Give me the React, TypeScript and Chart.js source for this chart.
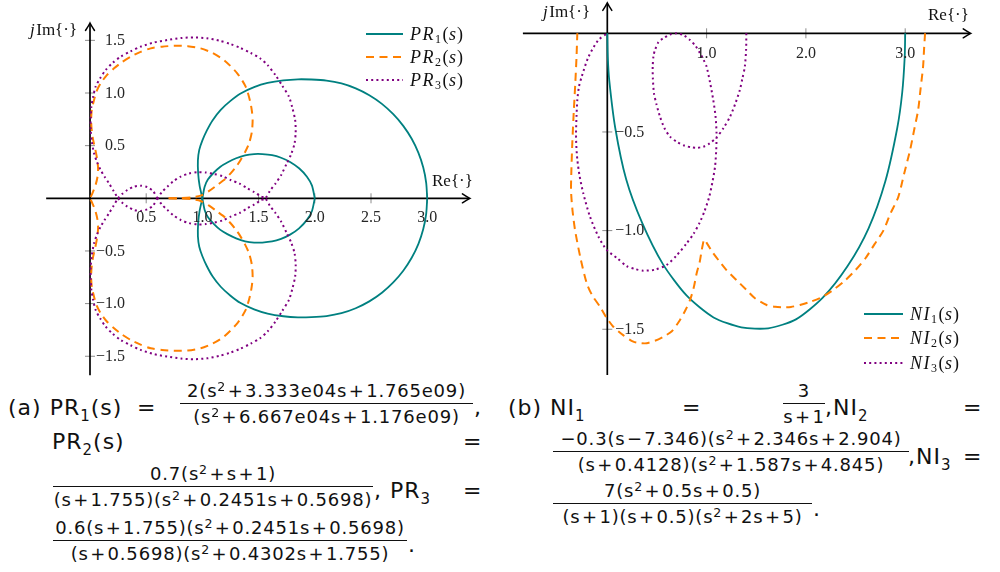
import React, { useEffect, useRef } from "react";
import { Chart, registerables } from "chart.js";

Chart.register(...registerables);

// ---------- (a) PR family: Nyquist loops (Re, Im) ----------
// PR1: outer loop through 3, inner loop through 2, both meeting at 1
const pr1OuterUpRe = [1.0, 0.975, 0.962, 0.96, 0.972, 1.0, 1.04, 1.09, 1.163, 1.25, 1.34, 1.46, 1.58, 1.72, 1.85, 1.97, 2.104, 2.237, 2.364, 2.485, 2.597, 2.698, 2.787, 2.862, 2.922, 2.965, 2.991, 3.0];
const pr1OuterUpIm = [0, 0.12, 0.24, 0.36, 0.46, 0.55, 0.645, 0.74, 0.84, 0.925, 0.995, 1.055, 1.095, 1.12, 1.13, 1.128, 1.118, 1.091, 1.044, 0.979, 0.897, 0.799, 0.688, 0.565, 0.432, 0.292, 0.147, 0];
const pr1OuterLoRe = [1.0, 0.975, 0.962, 0.96, 0.972, 1.0, 1.04, 1.09, 1.163, 1.25, 1.34, 1.46, 1.58, 1.72, 1.85, 1.97, 2.104, 2.237, 2.364, 2.485, 2.597, 2.698, 2.787, 2.862, 2.922, 2.965, 2.991, 3.0];
const pr1OuterLoIm = [0, -0.12, -0.24, -0.36, -0.46, -0.55, -0.645, -0.74, -0.84, -0.925, -0.995, -1.055, -1.095, -1.12, -1.13, -1.128, -1.118, -1.091, -1.044, -0.979, -0.897, -0.799, -0.688, -0.565, -0.432, -0.292, -0.147, 0];
const pr1InnerUpRe = [1.0, 1.02, 1.05, 1.103, 1.16, 1.222, 1.3, 1.38, 1.46, 1.533, 1.62, 1.7, 1.78, 1.86, 1.93, 1.975, 2.0];
const pr1InnerUpIm = [0, 0.11, 0.18, 0.245, 0.3, 0.34, 0.38, 0.408, 0.42, 0.42, 0.41, 0.385, 0.345, 0.285, 0.205, 0.12, 0];
const pr1InnerLoRe = [1.0, 1.02, 1.05, 1.103, 1.16, 1.222, 1.3, 1.38, 1.46, 1.533, 1.62, 1.7, 1.78, 1.86, 1.93, 1.975, 2.0];
const pr1InnerLoIm = [0, -0.11, -0.18, -0.245, -0.3, -0.34, -0.38, -0.408, -0.42, -0.42, -0.41, -0.385, -0.345, -0.285, -0.205, -0.12, 0];

// PR2: from 0.7 on the real axis round to the origin
const pr2UpRe = [0.7, 0.8, 0.9, 0.985, 1.06, 1.133, 1.2, 1.251, 1.3, 1.34, 1.38, 1.415, 1.44, 1.447, 1.44, 1.425, 1.385, 1.31, 1.192, 1.09, 0.985, 0.87, 0.747, 0.64, 0.54, 0.45, 0.362, 0.28, 0.214, 0.15, 0.095, 0.06, 0.036, 0.016, 0.01, 0.015, 0.028, 0.048, 0.065, 0.072, 0.066, 0.048, 0.022, 0];
const pr2UpIm = [0, 0.002, 0.008, 0.025, 0.07, 0.127, 0.18, 0.237, 0.3, 0.364, 0.44, 0.522, 0.63, 0.744, 0.83, 0.92, 1.06, 1.187, 1.313, 1.38, 1.424, 1.445, 1.448, 1.44, 1.424, 1.39, 1.345, 1.29, 1.234, 1.17, 1.092, 1.02, 0.934, 0.84, 0.744, 0.65, 0.554, 0.46, 0.364, 0.28, 0.2, 0.12, 0.05, 0];
const pr2LoRe = [0.7, 0.8, 0.9, 0.985, 1.06, 1.133, 1.2, 1.251, 1.3, 1.34, 1.38, 1.415, 1.44, 1.447, 1.44, 1.425, 1.385, 1.31, 1.192, 1.09, 0.985, 0.87, 0.747, 0.64, 0.54, 0.45, 0.362, 0.28, 0.214, 0.15, 0.095, 0.06, 0.036, 0.016, 0.01, 0.015, 0.028, 0.048, 0.065, 0.072, 0.066, 0.048, 0.022, 0];
const pr2LoIm = [0, -0.002, -0.008, -0.025, -0.07, -0.127, -0.18, -0.237, -0.3, -0.364, -0.44, -0.522, -0.63, -0.744, -0.83, -0.92, -1.06, -1.187, -1.313, -1.38, -1.424, -1.445, -1.448, -1.44, -1.424, -1.39, -1.345, -1.29, -1.234, -1.17, -1.092, -1.02, -0.934, -0.84, -0.744, -0.65, -0.554, -0.46, -0.364, -0.28, -0.2, -0.12, -0.05, 0];

// PR3: closed path starting and ending at 0.6 (and its mirror)
const pr3PosRe = [0.6, 0.56, 0.51, 0.45, 0.39, 0.332, 0.285, 0.25, 0.21, 0.169, 0.13, 0.095, 0.062, 0.036, 0.016, 0.006, 0.006, 0.012, 0.028, 0.05, 0.09, 0.139, 0.2, 0.273, 0.36, 0.45, 0.57, 0.688, 0.81, 0.925, 1.04, 1.15, 1.25, 1.334, 1.43, 1.512, 1.58, 1.65, 1.71, 1.77, 1.8, 1.825, 1.83, 1.82, 1.79, 1.75, 1.7, 1.65, 1.6, 1.56, 1.518, 1.46, 1.4, 1.33, 1.251, 1.18, 1.103, 1.03, 0.955, 0.88, 0.807, 0.74, 0.688, 0.64, 0.6];
const pr3PosIm = [0, -0.07, -0.105, -0.12, -0.11, -0.079, -0.04, 0, 0.07, 0.142, 0.205, 0.269, 0.345, 0.427, 0.54, 0.649, 0.76, 0.87, 0.965, 1.06, 1.14, 1.218, 1.285, 1.345, 1.395, 1.44, 1.48, 1.503, 1.522, 1.528, 1.52, 1.497, 1.465, 1.43, 1.38, 1.33, 1.265, 1.17, 1.07, 0.965, 0.86, 0.744, 0.63, 0.522, 0.42, 0.33, 0.22, 0.14, 0.07, 0, -0.02, -0.06, -0.095, -0.14, -0.174, -0.21, -0.231, -0.245, -0.248, -0.235, -0.206, -0.16, -0.11, -0.06, 0];
const pr3NegRe = [0.6, 0.56, 0.51, 0.45, 0.39, 0.332, 0.285, 0.25, 0.21, 0.169, 0.13, 0.095, 0.062, 0.036, 0.016, 0.006, 0.006, 0.012, 0.028, 0.05, 0.09, 0.139, 0.2, 0.273, 0.36, 0.45, 0.57, 0.688, 0.81, 0.925, 1.04, 1.15, 1.25, 1.334, 1.43, 1.512, 1.58, 1.65, 1.71, 1.77, 1.8, 1.825, 1.83, 1.82, 1.79, 1.75, 1.7, 1.65, 1.6, 1.56, 1.518, 1.46, 1.4, 1.33, 1.251, 1.18, 1.103, 1.03, 0.955, 0.88, 0.807, 0.74, 0.688, 0.64, 0.6];
const pr3NegIm = [0, 0.07, 0.105, 0.12, 0.11, 0.079, 0.04, 0, -0.07, -0.142, -0.205, -0.269, -0.345, -0.427, -0.54, -0.649, -0.76, -0.87, -0.965, -1.06, -1.14, -1.218, -1.285, -1.345, -1.395, -1.44, -1.48, -1.503, -1.522, -1.528, -1.52, -1.497, -1.465, -1.43, -1.38, -1.33, -1.265, -1.17, -1.07, -0.965, -0.86, -0.744, -0.63, -0.522, -0.42, -0.33, -0.22, -0.14, -0.07, 0, 0.02, 0.06, 0.095, 0.14, 0.174, 0.21, 0.231, 0.245, 0.248, 0.235, 0.206, 0.16, 0.11, 0.06, 0];

// ---------- (b) NI family ----------
const ni1Re = [0, 0.005, 0.02, 0.08, 0.19, 0.35, 0.56, 0.8, 1.07, 1.35, 1.62, 1.9, 2.17, 2.42, 2.63, 2.8, 2.92, 2.97, 2.995, 3.0];
const ni1Im = [0, -0.12, -0.24, -0.48, -0.74, -0.96, -1.17, -1.33, -1.44, -1.49, -1.495, -1.45, -1.34, -1.18, -0.99, -0.75, -0.48, -0.3, -0.12, 0];

const ni2Re = [3.2, 3.19, 3.18, 3.155, 3.13, 3.09, 3.05, 2.99, 2.93, 2.85, 2.78, 2.69, 2.6, 2.5, 2.4, 2.29, 2.17, 2.05, 1.94, 1.85, 1.773, 1.69, 1.605, 1.487, 1.4, 1.3, 1.2, 1.12, 1.06, 1.01, 0.975, 0.962, 0.951, 0.93, 0.9, 0.87, 0.833, 0.79, 0.732, 0.65, 0.564, 0.48, 0.397, 0.33, 0.262, 0.16, 0.06, -0.01, -0.073, -0.15, -0.207, -0.27, -0.325, -0.35, -0.365, -0.362, -0.352, -0.338, -0.322, -0.31, -0.302];
const ni2Im = [0, -0.08, -0.17, -0.28, -0.39, -0.49, -0.59, -0.71, -0.83, -0.915, -1.0, -1.07, -1.14, -1.2, -1.25, -1.295, -1.335, -1.36, -1.377, -1.387, -1.389, -1.386, -1.377, -1.343, -1.3, -1.25, -1.2, -1.15, -1.11, -1.07, -1.045, -1.07, -1.098, -1.16, -1.216, -1.29, -1.352, -1.4, -1.453, -1.51, -1.538, -1.558, -1.571, -1.57, -1.563, -1.53, -1.487, -1.44, -1.386, -1.33, -1.267, -1.14, -0.997, -0.9, -0.8, -0.7, -0.55, -0.4, -0.25, -0.12, 0];

const ni3Re = [1.4, 1.398, 1.385, 1.36, 1.335, 1.29, 1.236, 1.17, 1.1, 1.03, 0.967, 0.9, 0.85, 0.78, 0.7, 0.631, 0.575, 0.531, 0.495, 0.47, 0.459, 0.457, 0.465, 0.48, 0.515, 0.564, 0.63, 0.699, 0.77, 0.833, 0.89, 0.934, 0.97, 1.0, 1.035, 1.067, 1.09, 1.1, 1.097, 1.085, 1.06, 1.027, 0.98, 0.93, 0.87, 0.8, 0.7, 0.598, 0.48, 0.363, 0.28, 0.195, 0.1, -0.006, -0.09, -0.174, -0.242, -0.28, -0.302, -0.312, -0.315, -0.31, -0.302, -0.285, -0.258, -0.19, -0.09, 0];
const ni3Im = [0, -0.08, -0.169, -0.23, -0.287, -0.355, -0.423, -0.48, -0.528, -0.558, -0.575, -0.58, -0.578, -0.57, -0.55, -0.524, -0.48, -0.423, -0.36, -0.304, -0.23, -0.169, -0.115, -0.085, -0.045, -0.025, -0.007, 0, -0.01, -0.034, -0.065, -0.101, -0.135, -0.169, -0.25, -0.338, -0.42, -0.507, -0.59, -0.676, -0.75, -0.828, -0.9, -0.96, -1.015, -1.064, -1.125, -1.174, -1.198, -1.203, -1.195, -1.18, -1.14, -1.098, -1.03, -0.93, -0.811, -0.72, -0.64, -0.57, -0.507, -0.42, -0.338, -0.27, -0.22, -0.12, -0.034, 0];

// ---------- ticks ----------
const leftXTicks = [0.5, 1.0, 1.5, 2.0, 2.5, 3.0];
const leftXTickLabels = ["0.5", "1.0", "1.5", "2.0", "2.5", "3.0"];
const leftYTicks = [1.5, 1.0, 0.5, -0.5, -1.0, -1.5];
const leftYTickLabels = ["1.5", "1.0", "0.5", "\u22120.5", "\u22121.0", "\u22121.5"];
const rightXTicks = [1.0, 2.0, 3.0];
const rightXTickLabels = ["1.0", "2.0", "3.0"];
const rightYTicks = [-0.5, -1.0, -1.5];
const rightYTickLabels = ["\u22120.5", "\u22121.0", "\u22121.5"];

const TEAL = "#008080";
const ORANGE = "#ff8000";
const PURPLE = "#800080";
const SERIF = '"Liberation Serif", serif';
const CAP_FONT = '"DejaVu Sans", sans-serif';

type Part = [number[], number[]];
interface Series { head: string; sub: string; color: string; dash: number[]; width: number; parts: Part[] }
interface Decor {
  xAxis: [number, number];
  yAxis: [number, number];
  xTicks: number[]; xTickLabels: string[];
  yTicks: number[]; yTickLabels: string[];
  xLabelDy: number; yLabelDx: number;
  reTitle: [number, number]; imTitle: [number, number];
  legend: { x0: number; x1: number; tx: number; rows: number[] };
}

const leftSeries: Series[] = [
  { head: "PR", sub: "1", color: TEAL, dash: [], width: 1.8, parts: [[pr1OuterUpRe, pr1OuterUpIm], [pr1OuterLoRe, pr1OuterLoIm], [pr1InnerUpRe, pr1InnerUpIm], [pr1InnerLoRe, pr1InnerLoIm]] },
  { head: "PR", sub: "2", color: ORANGE, dash: [8, 5.5], width: 2, parts: [[pr2UpRe, pr2UpIm], [pr2LoRe, pr2LoIm]] },
  { head: "PR", sub: "3", color: PURPLE, dash: [2, 3.2], width: 2, parts: [[pr3PosRe, pr3PosIm], [pr3NegRe, pr3NegIm]] },
];
const rightSeries: Series[] = [
  { head: "NI", sub: "1", color: TEAL, dash: [], width: 1.8, parts: [[ni1Re, ni1Im]] },
  { head: "NI", sub: "2", color: ORANGE, dash: [8, 5.5], width: 2, parts: [[ni2Re, ni2Im]] },
  { head: "NI", sub: "3", color: PURPLE, dash: [2, 3.2], width: 2, parts: [[ni3Re, ni3Im]] },
];

const leftDecor: Decor = {
  xAxis: [-0.39, 3.38], yAxis: [-1.68, 1.665],
  xTicks: leftXTicks, xTickLabels: leftXTickLabels,
  yTicks: leftYTicks, yTickLabels: leftYTickLabels,
  xLabelDy: 19, yLabelDx: 35,
  reTitle: [432, 182], imTitle: [30, 31],
  legend: { x0: 366, x1: 403, tx: 410, rows: [34, 57, 80] },
};
const rightDecor: Decor = {
  xAxis: [-0.85, 3.66], yAxis: [-1.732, 0.154],
  xTicks: rightXTicks, xTickLabels: rightXTickLabels,
  yTicks: rightYTicks, yTickLabels: rightYTickLabels,
  xLabelDy: 20, yLabelDx: 37,
  reTitle: [428, 16], imTitle: [43, 13],
  legend: { x0: 364, x1: 403, tx: 410, rows: [314, 338, 363] },
};

function drawArrow(ctx: CanvasRenderingContext2D, x: number, y: number, angle: number) {
  ctx.save();
  ctx.translate(x, y);
  ctx.rotate(angle);
  ctx.beginPath();
  ctx.moveTo(-7.5, -4.5);
  ctx.quadraticCurveTo(-2.5, -1.2, 0, 0);
  ctx.quadraticCurveTo(-2.5, 1.2, -7.5, 4.5);
  ctx.lineWidth = 1.5;
  ctx.lineCap = "round";
  ctx.stroke();
  ctx.restore();
}

function drawFnName(ctx: CanvasRenderingContext2D, x: number, baseY: number, head: string, sub: string) {
  ctx.fillStyle = "#111";
  ctx.textAlign = "left";
  ctx.textBaseline = "alphabetic";
  let cx = x;
  ctx.font = `italic 18px ${SERIF}`;
  for (const ch of head) {
    ctx.fillText(ch, cx, baseY);
    cx += ctx.measureText(ch).width + 1.5;
  }
  ctx.font = `12px ${SERIF}`;
  ctx.fillText(sub, cx, baseY + 3.5);
  cx += ctx.measureText(sub).width + 1.5;
  ctx.font = `18px ${SERIF}`;
  ctx.fillText("(", cx, baseY);
  cx += ctx.measureText("(").width + 0.5;
  ctx.font = `italic 18px ${SERIF}`;
  ctx.fillText("s", cx, baseY);
  cx += ctx.measureText("s").width + 1;
  ctx.font = `18px ${SERIF}`;
  ctx.fillText(")", cx, baseY);
}

function decorPlugin(d: Decor, series: Series[]) {
  return {
    id: "nyquistDecor",
    beforeDatasetsDraw(chart: any) {
      const ctx: CanvasRenderingContext2D = chart.ctx;
      const xs = chart.scales.x;
      const ys = chart.scales.y;
      const x0 = xs.getPixelForValue(0);
      const y0 = ys.getPixelForValue(0);
      ctx.save();
      ctx.strokeStyle = "#8c8c8c";
      ctx.lineWidth = 1;
      d.xTicks.forEach((v) => {
        const px = xs.getPixelForValue(v);
        ctx.beginPath();
        ctx.moveTo(px, y0 - 5);
        ctx.lineTo(px, y0 + 5);
        ctx.stroke();
      });
      d.yTicks.forEach((v) => {
        const py = ys.getPixelForValue(v);
        ctx.beginPath();
        ctx.moveTo(x0 - 5, py);
        ctx.lineTo(x0 + 5, py);
        ctx.stroke();
      });
      ctx.strokeStyle = "#000";
      ctx.lineWidth = 1.7;
      const xa = xs.getPixelForValue(d.xAxis[0]);
      const xb = xs.getPixelForValue(d.xAxis[1]);
      ctx.beginPath();
      ctx.moveTo(xa, y0);
      ctx.lineTo(xb - 1, y0);
      ctx.stroke();
      drawArrow(ctx, xb, y0, 0);
      const ya = ys.getPixelForValue(d.yAxis[0]);
      const yb = ys.getPixelForValue(d.yAxis[1]);
      ctx.beginPath();
      ctx.moveTo(x0, ya);
      ctx.lineTo(x0, yb + 1);
      ctx.stroke();
      drawArrow(ctx, x0, yb, -Math.PI / 2);
      ctx.restore();
    },
    afterDatasetsDraw(chart: any) {
      const ctx: CanvasRenderingContext2D = chart.ctx;
      const xs = chart.scales.x;
      const ys = chart.scales.y;
      const x0 = xs.getPixelForValue(0);
      const y0 = ys.getPixelForValue(0);
      ctx.save();
      ctx.fillStyle = "#262626";
      ctx.font = `16px ${SERIF}`;
      ctx.textBaseline = "middle";
      ctx.textAlign = "center";
      d.xTicks.forEach((v, i) => {
        ctx.fillText(d.xTickLabels[i], xs.getPixelForValue(v), y0 + d.xLabelDy);
      });
      ctx.textAlign = "right";
      d.yTicks.forEach((v, i) => {
        ctx.fillText(d.yTickLabels[i], x0 + d.yLabelDx, ys.getPixelForValue(v) + 0.5);
      });

      // axis titles
      ctx.fillStyle = "#111";
      ctx.textAlign = "left";
      ctx.font = `17px ${SERIF}`;
      ctx.fillText("Re{\u00b7}", d.reTitle[0], d.reTitle[1]);
      ctx.font = `italic 17px ${SERIF}`;
      ctx.fillText("j", d.imTitle[0], d.imTitle[1]);
      const jw = ctx.measureText("j").width + 1.5;
      ctx.font = `17px ${SERIF}`;
      ctx.fillText("Im{\u00b7}", d.imTitle[0] + jw, d.imTitle[1]);

      // legend
      series.forEach((s, i) => {
        const ry = d.legend.rows[i];
        ctx.save();
        ctx.strokeStyle = s.color;
        ctx.lineWidth = s.width;
        ctx.setLineDash(s.dash);
        ctx.beginPath();
        ctx.moveTo(d.legend.x0, ry);
        ctx.lineTo(d.legend.x1, ry);
        ctx.stroke();
        ctx.restore();
        drawFnName(ctx, d.legend.tx, ry + 5.5, s.head, s.sub);
      });
      ctx.restore();
    },
  };
}

function NyquistPanel(props: { left: number; width: number; height: number; xRange: [number, number]; yRange: [number, number]; series: Series[]; decor: Decor }) {
  const ref = useRef<HTMLCanvasElement>(null);
  useEffect(() => {
    const { series, decor, xRange, yRange } = props;
    const datasets: any[] = [];
    series.forEach((s, si) => {
      s.parts.forEach(([re, im]) => {
        datasets.push({
          data: re.map((x, k) => ({ x, y: im[k] })),
          showLine: true,
          borderColor: s.color,
          borderWidth: s.width,
          borderDash: s.dash,
          borderCapStyle: "butt",
          borderJoinStyle: "round",
          pointRadius: 0,
          pointHoverRadius: 0,
          tension: 0.25,
          fill: false,
          order: series.length - si,
        });
      });
    });
    const chart = new Chart(ref.current as HTMLCanvasElement, {
      type: "scatter",
      data: { datasets },
      options: {
        responsive: false,
        animation: false,
        devicePixelRatio: 1,
        events: [],
        layout: { padding: 0 },
        plugins: { legend: { display: false }, tooltip: { enabled: false } },
        scales: {
          x: { type: "linear", display: false, bounds: "data", min: xRange[0], max: xRange[1] },
          y: { type: "linear", display: false, bounds: "data", min: yRange[0], max: yRange[1] },
        },
      },
      plugins: [decorPlugin(decor, series)],
    } as any);
    return () => chart.destroy();
  }, []);
  return (
    <canvas
      ref={ref}
      width={props.width}
      height={props.height}
      style={{ position: "absolute", left: props.left, top: 0, width: props.width, height: props.height }}
    />
  );
}

// ---------- caption typesetting ----------
function M({ t }: { t: string }) {
  const out: React.ReactNode[] = [];
  for (let i = 0; i < t.length; i++) {
    const c = t[i];
    if (c === "\u00b2") {
      out.push(
        <span key={i} style={{ fontSize: "0.7em", position: "relative", top: "-0.5em" }}>2</span>
      );
    } else if ((c === "+" || c === "\u2212") && i > 0 && t[i - 1] !== "(") {
      out.push(<span key={i} style={{ margin: "0 1.5px" }}>{c}</span>);
    } else {
      out.push(<span key={i}>{c}</span>);
    }
  }
  return <>{out}</>;
}

const Sub = ({ c }: { c: string }) => (
  <span style={{ fontSize: "0.68em", position: "relative", top: "0.35em" }}>{c}</span>
);

function T({ x, base, children }: { x: number; base: number; children: React.ReactNode }) {
  return (
    <div
      style={{
        position: "absolute", left: x, top: base - 18.6, fontFamily: CAP_FONT, fontSize: 22,
        lineHeight: "22px", letterSpacing: 1, color: "#111", whiteSpace: "nowrap",
      }}
    >
      {children}
    </div>
  );
}

// numerator baseline 6px above the bar, denominator baseline 20px below it
function Frac({ x, bar, w, num, den }: { x: number; bar: number; w: number; num: string; den: string }) {
  return (
    <div
      style={{
        position: "absolute", left: x, top: bar - 21, width: w, fontFamily: CAP_FONT, fontSize: 18,
        letterSpacing: 0.8, color: "#111", whiteSpace: "nowrap", display: "flex",
        flexDirection: "column", alignItems: "center",
      }}
    >
      <div style={{ height: 21, lineHeight: "18px" }}><M t={num} /></div>
      <div style={{ height: 1, width: "100%", background: "#111" }} />
      <div style={{ lineHeight: "18px", marginTop: 3.8 }}><M t={den} /></div>
    </div>
  );
}

export default function App() {
  return (
    <div style={{ position: "absolute", left: 0, top: 0, width: 1000, height: 572, background: "#fff", overflow: "hidden" }}>
      <NyquistPanel left={0} width={490} height={380} xRange={[-0.8007, 3.5587]} yRange={[-1.7255, 1.8832]} series={leftSeries} decor={leftDecor} />
      <NyquistPanel left={500} width={500} height={380} xRange={[-1.0806, 3.9547]} yRange={[-1.7572, 0.1688]} series={rightSeries} decor={rightDecor} />

      {/* (a) */}
      <T x={8} base={416}>(a) PR<Sub c="1" />(s)</T>
      <T x={137} base={416}>=</T>
      <Frac x={180} bar={403} w={293} num={"2(s\u00b2+3.333e04s+1.765e09)"} den={"(s\u00b2+6.667e04s+1.176e09)"} />
      <T x={474} base={416}>,</T>
      <T x={52} base={450}>PR<Sub c="2" />(s)</T>
      <T x={463} base={450}>=</T>
      <Frac x={53} bar={486} w={320} num={"0.7(s\u00b2+s+1)"} den={"(s+1.755)(s\u00b2+0.2451s+0.5698)"} />
      <T x={374} base={499}>, PR<Sub c="3" /></T>
      <T x={463} base={499}>=</T>
      <Frac x={53} bar={540} w={354} num={"0.6(s+1.755)(s\u00b2+0.2451s+0.5698)"} den={"(s+0.5698)(s\u00b2+0.4302s+1.755)"} />
      <T x={408} base={553}>.</T>

      {/* (b) */}
      <T x={508} base={416}>(b) NI<Sub c="1" /></T>
      <T x={682} base={416}>=</T>
      <Frac x={783} bar={403} w={42} num="3" den="s+1" />
      <T x={825} base={416}>,NI<Sub c="2" /></T>
      <T x={963} base={416}>=</T>
      <Frac x={553} bar={451} w={356} num={"\u22120.3(s\u22127.346)(s\u00b2+2.346s+2.904)"} den={"(s+0.4128)(s\u00b2+1.587s+4.845)"} />
      <T x={908} base={465}>,NI<Sub c="3" /></T>
      <T x={963} base={465}>=</T>
      <Frac x={553} bar={503} w={259} num={"7(s\u00b2+0.5s+0.5)"} den={"(s+1)(s+0.5)(s\u00b2+2s+5)"} />
      <T x={813} base={517}>.</T>
    </div>
  );
}
